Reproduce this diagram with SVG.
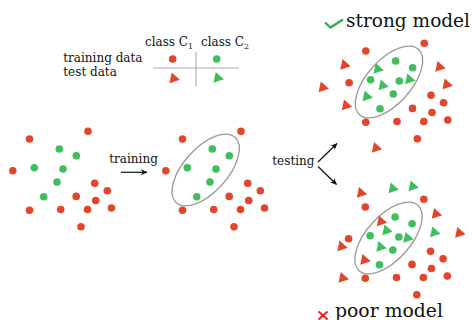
<svg xmlns="http://www.w3.org/2000/svg" xmlns:xlink="http://www.w3.org/1999/xlink" width="472" height="320" viewBox="0 0 472 320">
  <style>
    text { font-family: "DejaVu Serif", "Liberation Serif", serif; fill: #111; }
    .lbl { font-size: 12px; }
    .big { font-size: 18.5px; }
    .r { fill: #e2452b; }
    .g { fill: #3fbf5b; }
    .oval { fill: none; stroke: #9a9a9a; stroke-width: 1.3; }
    .grid { stroke: #b0b0b0; stroke-width: 1.2; }
    .arrow { stroke: #111; stroke-width: 1.2; fill: none; marker-end: url(#head); }
  </style>
  <defs>
    <marker id="head" markerWidth="8" markerHeight="8" refX="6" refY="3" orient="auto" markerUnits="userSpaceOnUse">
      <path d="M0,0 L6.5,3 L0,6 L1.6,3 Z" fill="#111"/>
    </marker>
    <!-- triangle marker shape, centroid at origin -->
    <path id="tri" d="M6.2,1.3 L-4.2,4.7 L-2,-6 Z"/>
    <!-- the shared point cloud: 12 class C1 points and 6 class C2 points -->
    <g id="cloud">
      <g class="r">
        <circle cx="29.5" cy="139" r="3.8"/>
        <circle cx="88" cy="131.2" r="3.8"/>
        <circle cx="12.8" cy="170.8" r="3.8"/>
        <circle cx="94.7" cy="183.2" r="3.8"/>
        <circle cx="107.3" cy="190.8" r="3.8"/>
        <circle cx="76.2" cy="196.4" r="3.8"/>
        <circle cx="95.7" cy="200.5" r="3.8"/>
        <circle cx="29.5" cy="210.2" r="3.8"/>
        <circle cx="60.7" cy="209.5" r="3.8"/>
        <circle cx="87.5" cy="209.5" r="3.8"/>
        <circle cx="111.5" cy="208" r="3.8"/>
        <circle cx="81" cy="226.7" r="3.8"/>
      </g>
      <g class="g">
        <circle cx="59.3" cy="149" r="3.8"/>
        <circle cx="76.3" cy="155.7" r="3.8"/>
        <circle cx="34.3" cy="167.7" r="3.8"/>
        <circle cx="63" cy="169" r="3.8"/>
        <circle cx="57" cy="182" r="3.8"/>
        <circle cx="43.7" cy="196.7" r="3.8"/>
      </g>
    </g>
    <ellipse id="boundary" class="oval" cx="52.7" cy="170" rx="44" ry="22" transform="rotate(-48 52.7 170)"/>
  </defs>

  <!-- legend -->
  <g id="legend">
    <text class="lbl" x="145" y="45.5">class C<tspan font-size="8" dy="3">1</tspan></text>
    <text class="lbl" x="201" y="45.5">class C<tspan font-size="8" dy="3">2</tspan></text>
    <text class="lbl" x="63.3" y="62.3">training data</text>
    <text class="lbl" x="63.3" y="76.3">test data</text>
    <line class="grid" x1="196" y1="52" x2="196" y2="86"/>
    <line class="grid" x1="153" y1="68" x2="239" y2="68"/>
    <circle class="r" cx="172.7" cy="59" r="3.8"/>
    <circle class="g" cx="216.7" cy="59" r="3.8"/>
    <use xlink:href="#tri" class="r" transform="translate(173.7 78.5)"/>
    <use xlink:href="#tri" class="g" transform="translate(217.7 78)"/>
  </g>

  <!-- raw training data -->
  <g id="data">
    <use xlink:href="#cloud"/>
  </g>

  <!-- trained model -->
  <g id="trained">
    <use xlink:href="#boundary" transform="translate(153 0)"/>
    <use xlink:href="#cloud" transform="translate(153 0)"/>
  </g>

  <!-- strong model -->
  <g id="strong">
    <polyline points="325,22.5 330.5,27.5 343,19.5" fill="none" stroke="#2faa50" stroke-width="2.2"/>
    <text class="big" x="346" y="27" textLength="124" lengthAdjust="spacingAndGlyphs">strong model</text>
    <use xlink:href="#boundary" transform="translate(336.3 -88)"/>
    <use xlink:href="#cloud" transform="translate(336.3 -88)"/>
    <g class="r">
      <use xlink:href="#tri" transform="translate(344.5 65)"/>
      <use xlink:href="#tri" transform="translate(322.8 87.5)"/>
      <use xlink:href="#tri" transform="translate(439.5 67)"/>
      <use xlink:href="#tri" transform="translate(446.7 84.5)"/>
      <use xlink:href="#tri" transform="translate(346 105.5)"/>
      <use xlink:href="#tri" transform="translate(376 148)"/>
    </g>
    <g class="g">
      <use xlink:href="#tri" transform="translate(377.7 69)"/>
      <use xlink:href="#tri" transform="translate(382.7 85.5)"/>
      <use xlink:href="#tri" transform="translate(409.3 79.5)"/>
      <use xlink:href="#tri" transform="translate(366.7 96.5)"/>
    </g>
  </g>

  <!-- poor model -->
  <g id="poor">
    <use xlink:href="#boundary" transform="translate(335.8 68)"/>
    <use xlink:href="#cloud" transform="translate(335.8 68)"/>
    <g class="r">
      <use xlink:href="#tri" transform="translate(361 193)"/>
      <use xlink:href="#tri" transform="translate(436 214)"/>
      <use xlink:href="#tri" transform="translate(459.3 233)"/>
      <use xlink:href="#tri" transform="translate(341.5 246.5)"/>
      <use xlink:href="#tri" transform="translate(381 221.5)"/>
      <use xlink:href="#tri" transform="translate(364.5 260)"/>
      <use xlink:href="#tri" transform="translate(342.7 278)"/>
    </g>
    <g class="g">
      <use xlink:href="#tri" transform="translate(392.7 188.5)"/>
      <use xlink:href="#tri" transform="translate(412.7 186.5)"/>
      <use xlink:href="#tri" transform="translate(386.5 230.5)"/>
      <use xlink:href="#tri" transform="translate(434.3 232.5)"/>
      <use xlink:href="#tri" transform="translate(407.5 238)"/>
      <use xlink:href="#tri" transform="translate(380.5 247)"/>
    </g>
    <g stroke="#e8231f" stroke-width="2">
      <line x1="318.5" y1="311.5" x2="327.5" y2="319.5"/>
      <line x1="327.5" y1="311.5" x2="318.5" y2="319.5"/>
    </g>
    <text class="big" x="335" y="317" textLength="108" lengthAdjust="spacingAndGlyphs">poor model</text>
  </g>

  <!-- connectors -->
  <g id="connectors">
    <text class="lbl" x="109.3" y="163.3">training</text>
    <line class="arrow" x1="121" y1="172.3" x2="147" y2="172.3"/>
    <text class="lbl" x="272.3" y="165">testing</text>
    <line class="arrow" x1="318" y1="162" x2="337" y2="143.5"/>
    <line class="arrow" x1="318" y1="166.5" x2="336.5" y2="184.5"/>
  </g>
</svg>
